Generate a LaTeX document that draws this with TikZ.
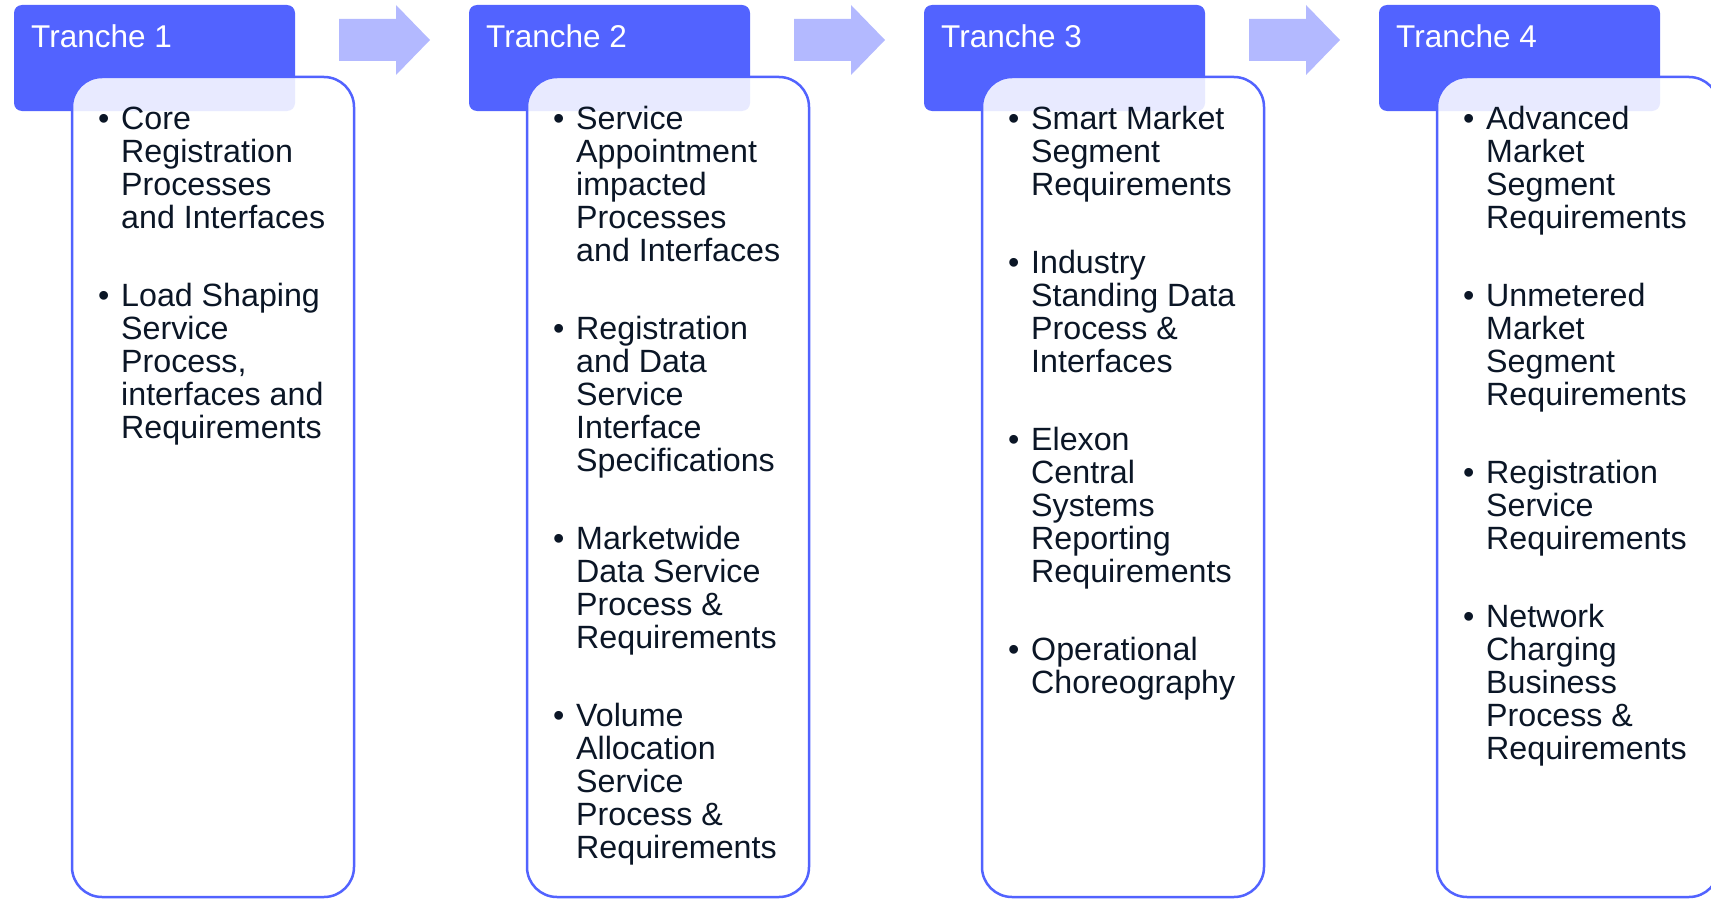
\documentclass[tikz,border=0pt]{standalone}
\usepackage{fontspec}
\setmainfont{Liberation Sans}
\definecolor{hdrblue}{HTML}{5263FF}
\definecolor{arrowblue}{HTML}{B3B9FF}
\definecolor{txtdark}{HTML}{0B1626}
% #1 name, #2 x, #3 first baseline, #4 number of lines, #5 text
\newcommand\myitem[5]{%
  \node[bul] (#1b) at (#2-23,#3) {•};
  \node[itm] (#1) at (#2,{#3+(#4-1)*33.06}) {#5};}
\newcommand\myarrow[1]{%
  \fill[arrowblue] (#1,19) -- ++(57,0) -- ++(0,-14) -- ++(34,35) -- ++(-34,35) -- ++(0,-14) -- ++(-57,0) -- cycle;}
\begin{document}
\begin{tikzpicture}[x=1pt,y=-1pt,
  hdr/.style={fill=hdrblue, rounded corners=8pt, minimum width=281pt, minimum height=106pt, anchor=north west, inner sep=0pt, outer sep=0pt},
  htxt/.style={text=white, anchor=base west, inner sep=0pt, font=\fontsize{31.5}{36}\selectfont},
  box/.style={draw=hdrblue, line width=2.5pt, fill=white, fill opacity=0.87, rounded corners=30pt, minimum width=282pt, minimum height=820pt, anchor=north west, inner sep=0pt, outer sep=0pt},
  itm/.style={text=txtdark, anchor=base west, inner sep=0pt, align=left, font=\fontsize{32.2}{33.06}\selectfont},
  bul/.style={text=txtdark, anchor=base west, inner sep=0pt, font=\fontsize{32.2}{33.06}\selectfont}]
\useasboundingbox (0,0) rectangle (1711,899);
% arrows
\myarrow{339}
\myarrow{794}
\myarrow{1249}
% headers
\node[hdr] (h1) at (14,5) {};
\node[hdr] (h2) at (469,5) {};
\node[hdr] (h3) at (924,5) {};
\node[hdr] (h4) at (1379,5) {};
\node[htxt] (t1) at (31,48) {Tranche 1};
\node[htxt] (t2) at (486,48) {Tranche 2};
\node[htxt] (t3) at (941,48) {Tranche 3};
\node[htxt] (t4) at (1396,48) {Tranche 4};
% boxes
\node[box] (b1) at (72,77) {};
\node[box] (b2) at (527,77) {};
\node[box] (b3) at (982,77) {};
\node[box] (b4) at (1437,77) {};
% column 1
\myitem{a1}{121}{129.3}{4}{Core\\Registration\\Processes\\and Interfaces}
\myitem{a2}{121}{306.2}{5}{Load Shaping\\Service\\Process,\\interfaces and\\Requirements}
% column 2
\myitem{c1}{576}{129.3}{5}{Service\\Appointment\\impacted\\Processes\\and Interfaces}
\myitem{c2}{576}{339.3}{5}{Registration\\and Data\\Service\\Interface\\Specifications}
\myitem{c3}{576}{549.3}{4}{Marketwide\\Data Service\\Process \&\\Requirements}
\myitem{c4}{576}{726.3}{5}{Volume\\Allocation\\Service\\Process \&\\Requirements}
% column 3
\myitem{d1}{1031}{129.3}{3}{Smart Market\\Segment\\Requirements}
\myitem{d2}{1031}{273.2}{4}{Industry\\Standing Data\\Process \&\\Interfaces}
\myitem{d3}{1031}{450.1}{5}{Elexon\\Central\\Systems\\Reporting\\Requirements}
\myitem{d4}{1031}{660.1}{2}{Operational\\Choreography}
% column 4
\myitem{e1}{1486}{129.3}{4}{Advanced\\Market\\Segment\\Requirements}
\myitem{e2}{1486}{306.2}{4}{Unmetered\\Market\\Segment\\Requirements}
\myitem{e3}{1486}{483.1}{3}{Registration\\Service\\Requirements}
\myitem{e4}{1486}{627.0}{5}{Network\\Charging\\Business\\Process \&\\Requirements}
\end{tikzpicture}
\end{document}
